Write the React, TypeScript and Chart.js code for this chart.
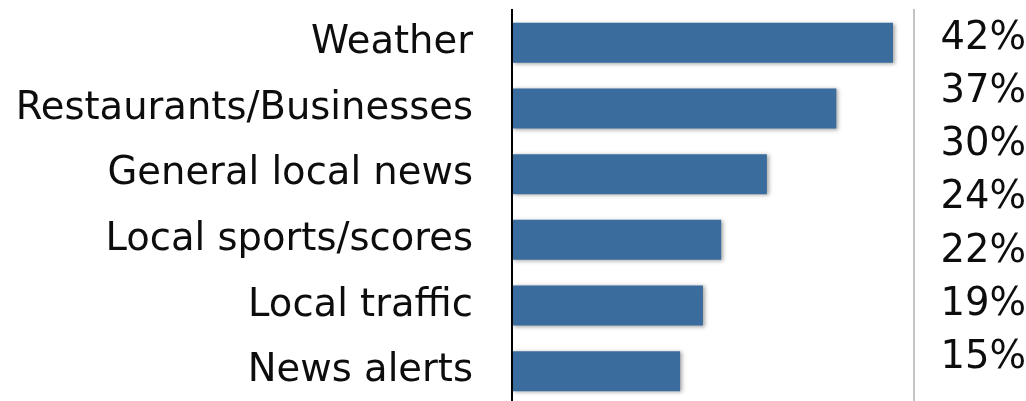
import React, { useEffect, useRef } from "react";
import { Chart, registerables } from "chart.js";

Chart.register(...registerables);

const categories = [
  "Weather",
  "Restaurants/Businesses",
  "General local news",
  "Local sports/scores",
  "Local traffic",
  "News alerts",
];
const values = [41.7, 35.5, 27.9, 22.9, 20.9, 18.4];
const sideLabels = ["42%", "37%", "30%", "24%", "22%", "19%", "15%"];

const FONT = "'DejaVu Sans', sans-serif";
const FONT_SIZE = 38.5;

const barShadow = {
  id: "barShadow",
  beforeDatasetsDraw(chart: any) {
    const ctx = chart.ctx;
    ctx.save();
    ctx.shadowColor = "rgba(0,0,0,0.35)";
    ctx.shadowBlur = 4;
    ctx.shadowOffsetX = 2;
    ctx.shadowOffsetY = 1;
  },
  afterDatasetsDraw(chart: any) {
    chart.ctx.restore();
  },
};

const noPad = (s: any) => {
  s.paddingTop = 0;
  s.paddingBottom = 0;
  s.paddingLeft = 0;
  s.paddingRight = 0;
};

export default function App() {
  const ref = useRef<HTMLCanvasElement | null>(null);

  useEffect(() => {
    if (!ref.current) return;
    const chart = new Chart(ref.current, {
      type: "bar",
      data: {
        labels: categories,
        datasets: [
          {
            data: values,
            backgroundColor: "#3A6C9E",
            borderWidth: 0,
            barPercentage: 0.61,
            categoryPercentage: 1,
            yAxisID: "y",
          },
        ],
      },
      plugins: [barShadow],
      options: {
        indexAxis: "y",
        animation: false,
        responsive: true,
        maintainAspectRatio: false,
        layout: { padding: { top: 10, left: 0, right: 0, bottom: 0 } },
        plugins: {
          legend: { display: false },
          tooltip: { enabled: false },
        },
        scales: {
          x: {
            display: false,
            min: 0,
            max: 44,
          },
          y: {
            type: "category",
            position: "left",
            grid: { display: false, drawTicks: false },
            border: { display: true, color: "#000000", width: 2, z: 1 },
            ticks: {
              color: "#0d0d0d",
              font: { family: FONT, size: FONT_SIZE },
              padding: 39,
              autoSkip: false,
            },
            afterFit: (s: any) => {
              s.width = 512;
              noPad(s);
            },
          },
          y2: {
            type: "linear",
            position: "right",
            reverse: true,
            offset: false,
            min: -0.545,
            max: 6.865,
            grid: { display: false, drawTicks: false, offset: false },
            border: { display: true, color: "#c4c4c4", width: 2 },
            afterBuildTicks: (s: any) => {
              s.ticks = sideLabels.map((_, i) => ({ value: i }));
            },
            ticks: {
              color: "#0d0d0d",
              font: { family: FONT, size: FONT_SIZE },
              padding: 15,
              crossAlign: "far",
              autoSkip: false,
              callback: (v: any) => sideLabels[v as number] ?? "",
            },
            afterFit: (s: any) => {
              s.width = 112;
              noPad(s);
            },
          },
        },
      } as any,
    });
    return () => chart.destroy();
  }, []);

  return (
    <div
      style={{
        position: "fixed",
        left: 0,
        top: 0,
        width: 1026,
        height: 404,
        background: "#ffffff",
      }}
    >
      <canvas ref={ref} />
    </div>
  );
}
